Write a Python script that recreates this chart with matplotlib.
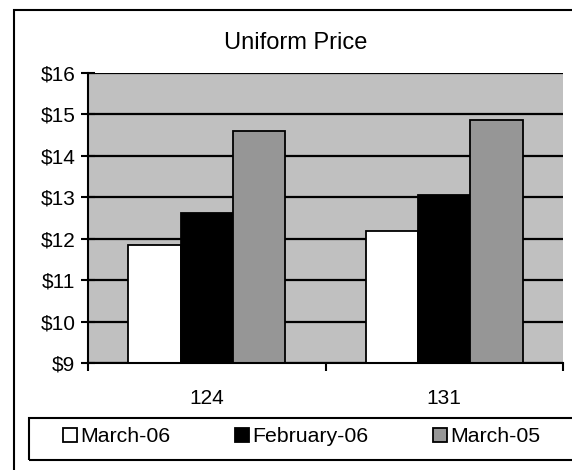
import matplotlib
matplotlib.use("Agg")
import matplotlib.pyplot as plt
from matplotlib.patches import Rectangle, Patch
from matplotlib.ticker import FuncFormatter, FixedLocator
import numpy as np

plt.rcParams['font.family'] = ['Liberation Sans', 'DejaVu Sans']

categories = ["124", "131"]
series_names = ["March-06", "February-06", "March-05"]
march06 = [11.86, 12.19]
feb06 = [12.61, 13.05]
march05 = [14.61, 14.86]
colors = ["#FFFFFF", "#000000", "#969696"]

W, H = 572, 470
fig = plt.figure(figsize=(W / 100, H / 100), dpi=100)
fig.patch.set_facecolor("white")

# outer chart frame (extends beyond image at right/bottom)
fig.patches.append(Rectangle((14 / W, -0.05), 1.2, (470 - 10) / H + 0.05,
                             transform=fig.transFigure, fill=False,
                             edgecolor="black", linewidth=1.5, zorder=0))

ax = fig.add_axes([88 / W, (H - 363) / H, (563 - 88) / W, (363 - 73) / H])
ax.set_facecolor("#C0C0C0")

x = np.arange(len(categories)) + 0.5
bw = 0.221
for i, (vals, c) in enumerate(zip([march06, feb06, march05], colors)):
    ax.bar(x + (i - 1) * bw, np.array(vals) - 9, bottom=9, width=bw, color=c,
           edgecolor="black", linewidth=1.3, zorder=3, label=series_names[i])

ax.set_xlim(0, 2)
ax.set_ylim(9, 16)
ax.set_yticks(range(9, 17))
ax.yaxis.set_major_formatter(FuncFormatter(lambda v, p: f"${int(v)}"))
ax.yaxis.grid(True, color="black", linewidth=1.6, zorder=1)
ax.set_axisbelow(True)

ax.set_xticks(x)
ax.set_xticklabels(categories)
ax.xaxis.set_minor_locator(FixedLocator([0, 1, 2]))
ax.tick_params(axis="x", which="major", length=0, pad=19, labelsize=15)
ax.tick_params(axis="x", which="minor", length=6, width=1.5, direction="out")
ax.tick_params(axis="y", length=10, width=1.5, direction="inout", pad=4, labelsize=15)

for s in ["top", "right"]:
    ax.spines[s].set_visible(False)
for s in ["left", "bottom"]:
    ax.spines[s].set_linewidth(1.5)
    ax.spines[s].set_zorder(4)

fig.text(296 / W, 1 - 43 / H, "Uniform Price", ha="center", va="center", fontsize=17)

# legend frame
fig.patches.append(Rectangle((29 / W, (H - 460) / H), 1.2, 42 / H,
                             transform=fig.transFigure, fill=False,
                             edgecolor="black", linewidth=1.5))
handles = [Patch(facecolor=c, edgecolor="black", linewidth=1.3) for c in colors]
fig.legend(handles, series_names, loc="center left",
           bbox_to_anchor=(63 / W, (H - 437) / H), ncol=3, frameon=False,
           fontsize=15.3, handlelength=0.65, handleheight=0.65,
           handletextpad=0.15, columnspacing=3.05, borderpad=0, borderaxespad=0)

fig.savefig("out.png", dpi=100)
